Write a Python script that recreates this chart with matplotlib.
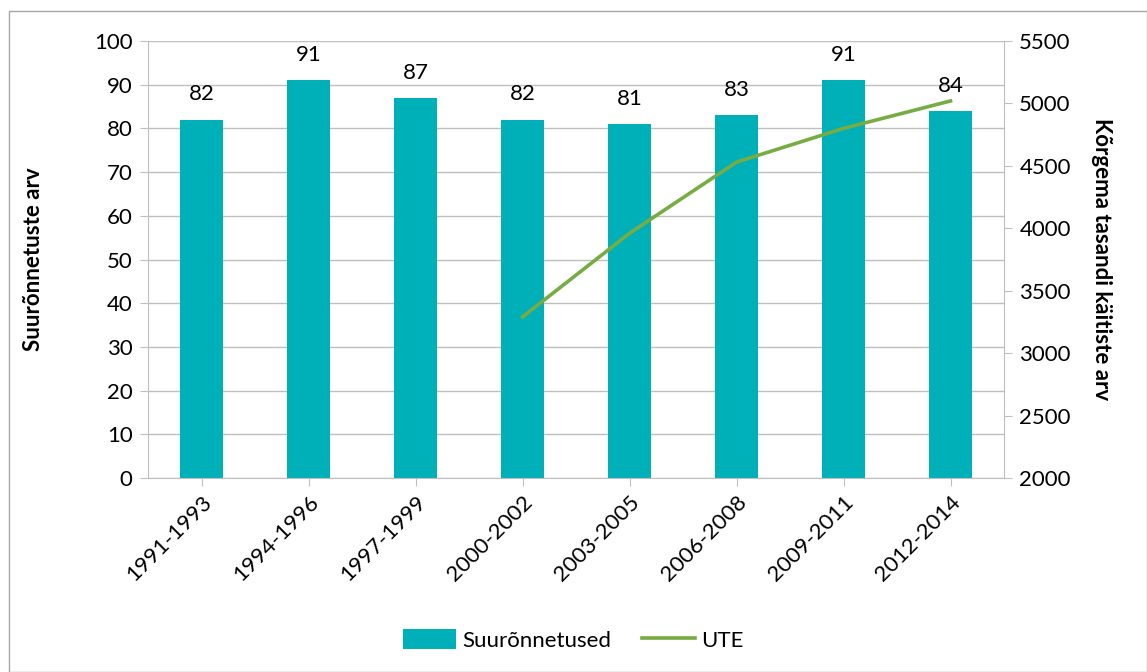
import numpy as np
import matplotlib
matplotlib.use('Agg')
import matplotlib.pyplot as plt
from matplotlib.patches import Rectangle

plt.rcParams['font.family'] = ['Lato', 'DejaVu Sans']

periods = ['1991-1993', '1994-1996', '1997-1999', '2000-2002',
           '2003-2005', '2006-2008', '2009-2011', '2012-2014']
suuronnetused = [82, 91, 87, 82, 81, 83, 91, 84]
# UTE only known from 2000-2002 on
ute_periods = ['2000-2002', '2003-2005', '2006-2008', '2009-2011', '2012-2014']
ute = [3290, 3960, 4530, 4800, 5020]

bar_color = '#00B0B9'
line_color = '#77AC43'
grid_color = '#BFBFBF'

fig = plt.figure(figsize=(11.47, 6.72), dpi=100)
ax = fig.add_axes([148/1147, 1 - 478/672, (1004-148)/1147, (478-41)/672])
ax2 = ax.twinx()

x = np.arange(len(periods))
bars = ax.bar(x, suuronnetused, width=0.4, color=bar_color, label='Suurõnnetused', zorder=2)
for xi, v in zip(x, suuronnetused):
    ax.text(xi, v + 3.5, str(v), ha='center', va='bottom', fontsize=16)

ux = [periods.index(p) for p in ute_periods]
ax2.plot(ux, ute, color=line_color, lw=2.6, label='UTE', zorder=3)

ax.set_xlim(-0.5, len(periods) - 0.5)
ax.set_ylim(0, 100)
ax.set_yticks(range(0, 101, 10))
ax2.set_ylim(2000, 5500)
ax2.set_yticks(range(2000, 5501, 500))

ax.grid(axis='y', color=grid_color, lw=1, zorder=0)
ax.set_axisbelow(True)
ax.set_xticks(x)
ax.set_xticklabels(periods, rotation=45, ha='right', rotation_mode='anchor', fontsize=16)
ax.tick_params(axis='x', length=6, color=grid_color, pad=4)
ax.tick_params(axis='y', labelsize=16, length=6, color=grid_color, pad=5)
ax2.tick_params(axis='y', labelsize=16, length=6, color=grid_color, pad=5)

for a in (ax, ax2):
    for s in a.spines.values():
        s.set_visible(False)
ax.spines['left'].set_visible(True)
ax.spines['left'].set_color(grid_color)
ax.spines['bottom'].set_visible(True)
ax.spines['bottom'].set_color(grid_color)
ax2.spines['right'].set_visible(True)
ax2.spines['right'].set_color(grid_color)

ax.set_ylabel('Suurõnnetuste arv', fontsize=16, fontweight='bold', labelpad=36)
ax2.set_ylabel('Kõrgema tasandi käitiste arv', fontsize=16, fontweight='bold',
               rotation=270, labelpad=30)

h1, l1 = ax.get_legend_handles_labels()
h2, l2 = ax2.get_legend_handles_labels()
fig.legend(h1 + h2, l1 + l2, loc='center', bbox_to_anchor=(0.5, 1 - 640/672),
           ncol=2, frameon=False, fontsize=16, handlelength=2.35, handleheight=1.0,
           columnspacing=1.4, handletextpad=0.3)

fig.patches.append(Rectangle((9/1147, 0), 1 - 9/1147, 1 - 11/672, transform=fig.transFigure,
                             fill=False, edgecolor='#A6A6A6', lw=1))

fig.savefig('out.png', dpi=100)
